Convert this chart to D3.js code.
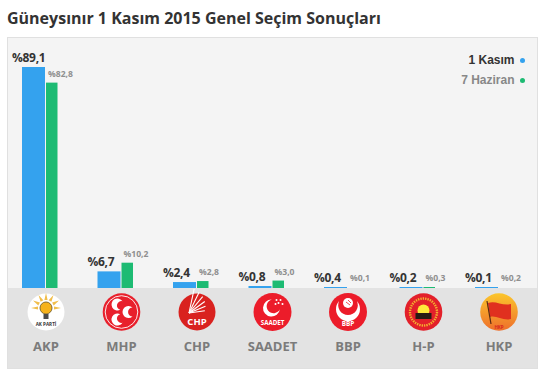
<!DOCTYPE html>
<html><head><meta charset="utf-8">
<script src="https://cdn.jsdelivr.net/npm/d3@7"></script>
<style>html,body{margin:0;padding:0;background:#fff}svg{display:block}text{font-family:"Open Sans",sans-serif}</style>
</head><body><div id="c"></div>
<script>
const parties=["AKP","MHP","CHP","SAADET","BBP","H-P","HKP"];
const kasim=[89.1,6.7,2.4,0.8,0.4,0.2,0.1];
const haziran=[82.8,10.2,2.8,3.0,0.1,0.3,0.2];
const kasimLabels=["%89,1","%6,7","%2,4","%0,8","%0,4","%0,2","%0,1"];
const haziranLabels=["%82,8","%10,2","%2,8","%3,0","%0,1","%0,3","%0,2"];
const title="Güneysınır 1 Kasım 2015 Genel Seçim Sonuçları";
const W=544,H=376,base=288;
const svg=d3.select("#c").append("svg").attr("width",W).attr("height",H);
svg.append("rect").attr("x",7.5).attr("y",37.5).attr("width",530).attr("height",331).attr("fill","#f4f4f4").attr("stroke","#e0e0e0");
svg.append("rect").attr("x",8).attr("y",base).attr("width",529).attr("height",80).attr("fill","#e3e3e3");
svg.append("text").attr("x",7).attr("y",24).attr("font-size",16).attr("font-weight",700).attr("fill","#333").text(title);
const x=d3.scaleBand().domain(parties).range([7.5,536]).padding(0);
const y=d3.scaleLinear().domain([0,89.1]).range([base,67]);
const bl=p=>x(p)+14.5;
const g=svg.append("g");
parties.forEach((p,i)=>{
  const h1=Math.max(1,base-y(kasim[i])), h2=Math.max(1,base-y(haziran[i]));
  g.append("rect").attr("x",bl(p)).attr("y",base-h1).attr("width",23).attr("height",h1).attr("fill","#34a2ee");
  if(haziran[i]>=0.3) g.append("rect").attr("x",bl(p)+24).attr("y",base-h2).attr("width",11.5).attr("height",h2).attr("fill","#1dbb73");
  g.append("text").attr("x",bl(p)-10).attr("y",base-h1-5).attr("font-size",12).attr("font-weight",700).attr("letter-spacing",-0.3).attr("fill","#333").text(kasimLabels[i]);
  g.append("text").attr("x",bl(p)+26).attr("y",base-h2-6).attr("font-size",8.6).attr("font-weight",700).attr("fill","#8f8f8f").text(haziranLabels[i]);
  const cx=bl(p)+24;
  g.append("text").attr("x",cx).attr("y",351).attr("text-anchor","middle").attr("font-size",13).attr("font-weight",700).attr("fill","#7b7b7b").text(p);
  const l=g.append("g").attr("transform",`translate(${cx},312)`);
  drawLogo(l,p);
});
function txt(l,t,yy,s,fill){l.append("text").attr("y",yy).attr("text-anchor","middle").attr("font-size",s).attr("font-weight",700).attr("fill",fill||"#fff").text(t);}
function crescent(l,cx,cy,r,dir,ratio,fill){
  const th=48*Math.PI/180,tx=r*Math.cos(th),ty=r*Math.sin(th),r2=r*(ratio||0.8);
  l.append("path").attr("transform",`translate(${cx},${cy}) rotate(${dir})`)
   .attr("d",`M${tx},${-ty}A${r},${r} 0 1 0 ${tx},${ty}A${r2},${r2} 0 1 1 ${tx},${-ty}Z`).attr("fill",fill||"#fff");
}
function drawLogo(l,p){
  const R=18.5;
  if(p==="AKP"){
    l.append("circle").attr("r",R).attr("fill","#fff");
    [-90,-60,-30,0,30,60,90].forEach(a=>l.append("path").attr("d","M-1.6,-8L0,-15L1.6,-8Z").attr("transform",`translate(0,-4) rotate(${a})`).attr("fill","#f0bd4a"));
    l.append("circle").attr("cy",-4).attr("r",6).attr("fill","#f6b21b").attr("stroke","#75602c").attr("stroke-width",0.9);
    l.append("rect").attr("x",-2.5).attr("y",2).attr("width",5).attr("height",5).attr("fill","#4a4a4a");
    txt(l,"AK PARTİ",14,4.6,"#333");
  } else if(p==="MHP"){
    l.append("circle").attr("r",R+0.3).attr("fill","#e8202c");
    l.append("circle").attr("r",16.3).attr("fill","none").attr("stroke","#fff").attr("stroke-width",0.9);
    crescent(l,-4,-7.5,6,15,0.68);crescent(l,-4,7.5,6,-15,0.68);crescent(l,7,0,6,0,0.68);
  } else if(p==="CHP"){
    l.append("circle").attr("r",R).attr("fill","#d9221f");
    [-8,-22,-36,-50,-64,-78].forEach(a=>l.append("line").attr("x1",-8).attr("y1",1).attr("x2",7+a/-8).attr("y2",1).attr("transform",`rotate(${a} -8 1)`).attr("stroke","#fff").attr("stroke-width",1.1));
    txt(l,"CHP",12.5,9.5);
  } else if(p==="SAADET"){
    l.append("circle").attr("r",R+0.5).attr("fill","#ec1c2a");
    crescent(l,-1,-4,8.5,-40,0.82);
    [[4,-12],[8,-12],[6,-9],[10,-8],[3,-8]].forEach(d=>l.append("circle").attr("cx",d[0]).attr("cy",d[1]).attr("r",1).attr("fill","#fff"));
    txt(l,"SAADET",12.5,6.2);
  } else if(p==="BBP"){
    l.append("circle").attr("r",R+0.5).attr("fill","#ec1c2a");
    crescent(l,0,-3,12,-90,0.82);
    l.append("circle").attr("cy",-9).attr("r",5).attr("fill","#fff");
    l.append("path").attr("d","M-2,-10L2,-7M0,-12L3,-9").attr("stroke","#ec1c2a").attr("stroke-width",0.8);
    txt(l,"BBP",13.5,6.4);
  } else if(p==="H-P"){
    l.append("circle").attr("r",R+0.3).attr("fill","#e3202a");
    l.append("circle").attr("r",13.5).attr("fill","none").attr("stroke","#f7d531").attr("stroke-width",2.4).attr("stroke-dasharray","1.4 1").attr("stroke-opacity",0.8);
    l.append("circle").attr("cy",-1.5).attr("r",6).attr("fill","#ffe93a");
    l.append("rect").attr("x",-8).attr("y",1).attr("width",16).attr("height",6).attr("fill","#2a1c14");
  } else {
    const id="hkpg";
    const gr=l.append("linearGradient").attr("id",id).attr("x1",0).attr("x2",0).attr("y1",0).attr("y2",1);
    gr.append("stop").attr("offset","0").attr("stop-color","#fbc62c");
    gr.append("stop").attr("offset","1").attr("stop-color","#ee6f2c");
    l.append("circle").attr("r",R+0.3).attr("fill",`url(#${id})`);
    l.append("path").attr("d","M-11,-9 C-4,-12 3,-6 12,-8 L12,7 C4,9 -3,3 -9,5 Z").attr("fill","#e0301f");
    l.append("line").attr("x1",-12).attr("y1",-11).attr("x2",-8).attr("y2",12).attr("stroke","#5a2a12").attr("stroke-width",1.2);
    txt(l,"HKP",16.5,4.5,"#d7261e");
  }
}
const leg=svg.append("g");
leg.append("text").attr("x",514.5).attr("y",64).attr("text-anchor","end").style("font-family","'Liberation Sans',Arial,sans-serif").attr("font-size",12).attr("font-weight",700).attr("fill","#333").text("1 Kasım");
leg.append("circle").attr("cx",522.5).attr("cy",60.5).attr("r",2.5).attr("fill","#34a2ee");
leg.append("text").attr("x",514.5).attr("y",84).attr("text-anchor","end").style("font-family","'Liberation Sans',Arial,sans-serif").attr("font-size",12).attr("font-weight",700).attr("fill","#888").text("7 Haziran");
leg.append("circle").attr("cx",522.5).attr("cy",80.5).attr("r",2.5).attr("fill","#1dbb73");
</script></body></html>
